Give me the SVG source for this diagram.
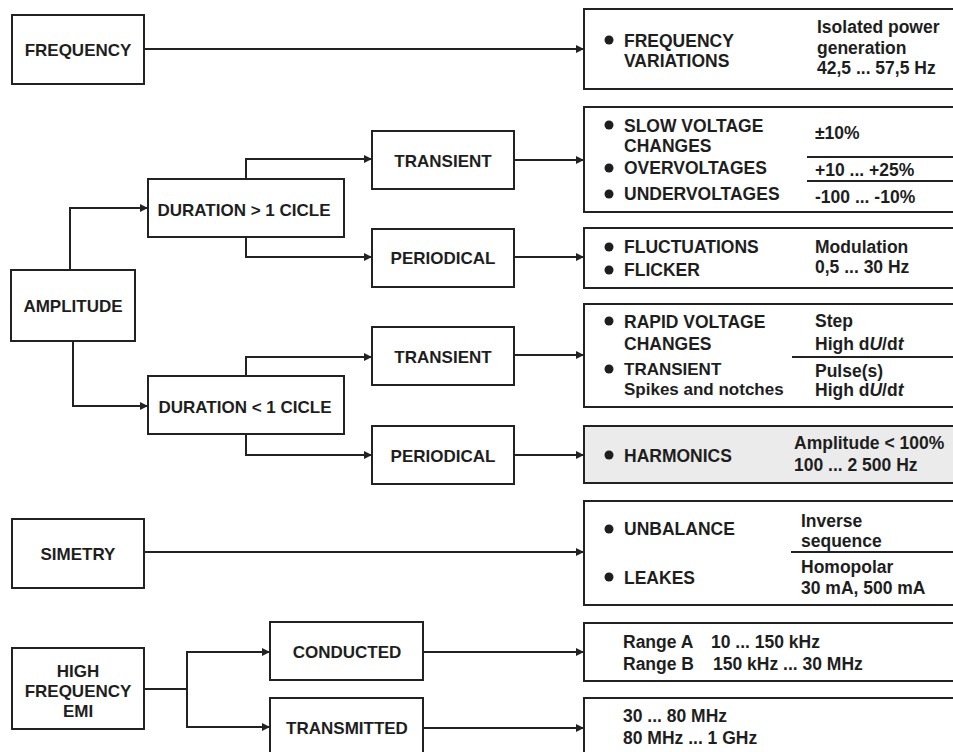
<svg xmlns="http://www.w3.org/2000/svg" width="953" height="752" viewBox="0 0 953 752">
<style>
.box{fill:#fff;stroke:#222;stroke-width:2}
.grey{fill:#ebebeb;stroke:#222;stroke-width:2}
.t{font-family:"Liberation Sans",Arial,sans-serif;font-weight:bold;font-size:17px;fill:#1e1e1e}
.r{font-family:"Liberation Sans",Arial,sans-serif;font-weight:bold;font-size:17.5px;fill:#1e1e1e}
.s{font-size:17px}
.c{text-anchor:middle}
.con{fill:none;stroke:#222;stroke-width:2}
.div{stroke:#222;stroke-width:2}
.b{fill:#1e1e1e}
</style>
<defs>
<marker id="ah" viewBox="0 0 10 10" refX="10" refY="5" markerWidth="10" markerHeight="8" markerUnits="userSpaceOnUse" orient="auto">
<path d="M0,0 L10,5 L0,10 z" fill="#222"/>
</marker>
</defs>
<rect width="953" height="752" fill="#fff"/>

<g id="connectors">
<path class="con" d="M144,49 H584" marker-end="url(#ah)"/>
<path class="con" d="M70,270 V208 H148" marker-end="url(#ah)"/>
<path class="con" d="M246,179 V159 H372" marker-end="url(#ah)"/>
<path class="con" d="M246,237 V257 H372" marker-end="url(#ah)"/>
<path class="con" d="M514,160 H584" marker-end="url(#ah)"/>
<path class="con" d="M514,257 H584" marker-end="url(#ah)"/>
<path class="con" d="M73,341 V406 H148" marker-end="url(#ah)"/>
<path class="con" d="M246,376 V357 H372" marker-end="url(#ah)"/>
<path class="con" d="M246,434 V455 H372" marker-end="url(#ah)"/>
<path class="con" d="M514,355 H584" marker-end="url(#ah)"/>
<path class="con" d="M514,455 H584" marker-end="url(#ah)"/>
<path class="con" d="M144,552 H584" marker-end="url(#ah)"/>
<path class="con" d="M144,689 H187"/>
<path class="con" d="M187,689 V652 H270" marker-end="url(#ah)"/>
<path class="con" d="M187,689 V727 H270" marker-end="url(#ah)"/>
<path class="con" d="M423,652 H584" marker-end="url(#ah)"/>
<path class="con" d="M423,728 H584" marker-end="url(#ah)"/>
</g>

<g id="frequency">
<rect class="box" x="12" y="15" width="132" height="69"/>
<text class="t c" x="78" y="56">FREQUENCY</text>
</g>

<g id="frequency-variations">
<rect class="box" x="584" y="9" width="372" height="80"/>
<circle class="b" cx="609" cy="40" r="4.5"/>
<text class="r" x="624" y="47">FREQUENCY</text>
<text class="r" x="624" y="67">VARIATIONS</text>
<text class="r" x="817" y="33">Isolated power</text>
<text class="r" x="817" y="54">generation</text>
<text class="r" x="817" y="74">42,5 ... 57,5 Hz</text>
</g>

<g id="amplitude">
<rect class="box" x="11" y="270" width="124" height="71"/>
<text class="t c" x="73" y="312">AMPLITUDE</text>
</g>

<g id="duration-gt">
<rect class="box" x="148" y="179" width="196" height="58"/>
<text class="t c" x="244" y="216">DURATION &gt; 1 CICLE</text>
</g>

<g id="duration-lt">
<rect class="box" x="148" y="376" width="196" height="58"/>
<text class="t c" x="245" y="413">DURATION &lt; 1 CICLE</text>
</g>

<g id="transient-1">
<rect class="box" x="372" y="131" width="142" height="58"/>
<text class="t c" x="443" y="167">TRANSIENT</text>
</g>

<g id="periodical-1">
<rect class="box" x="372" y="229" width="142" height="58"/>
<text class="t c" x="443" y="264">PERIODICAL</text>
</g>

<g id="transient-2">
<rect class="box" x="372" y="327" width="142" height="58"/>
<text class="t c" x="443" y="363">TRANSIENT</text>
</g>

<g id="periodical-2">
<rect class="box" x="372" y="426" width="142" height="58"/>
<text class="t c" x="443" y="462">PERIODICAL</text>
</g>

<g id="slow-voltage">
<rect class="box" x="584" y="107" width="372" height="105"/>
<circle class="b" cx="609" cy="125" r="4.5"/>
<text class="r" x="624" y="132">SLOW VOLTAGE</text>
<text class="r" x="624" y="152">CHANGES</text>
<circle class="b" cx="609" cy="168" r="4.5"/>
<text class="r" x="624" y="174">OVERVOLTAGES</text>
<circle class="b" cx="609" cy="194" r="4.5"/>
<text class="r" x="624" y="200">UNDERVOLTAGES</text>
<text class="r" x="815" y="139">±10%</text>
<line class="div" x1="807" y1="157" x2="953" y2="157"/>
<text class="r" x="815" y="176">+10 ... +25%</text>
<line class="div" x1="807" y1="181" x2="953" y2="181"/>
<text class="r" x="815" y="203">-100 ... -10%</text>
</g>

<g id="fluctuations">
<rect class="box" x="584" y="228" width="372" height="60"/>
<circle class="b" cx="609" cy="247" r="4.5"/>
<text class="r" x="624" y="253">FLUCTUATIONS</text>
<circle class="b" cx="609" cy="270" r="4.5"/>
<text class="r" x="624" y="276">FLICKER</text>
<text class="r" x="815" y="253">Modulation</text>
<text class="r" x="815" y="273">0,5 ... 30 Hz</text>
</g>

<g id="rapid-voltage">
<rect class="box" x="584" y="304" width="372" height="103"/>
<circle class="b" cx="609" cy="321" r="4.5"/>
<text class="r" x="624" y="328">RAPID VOLTAGE</text>
<text class="r" x="624" y="350">CHANGES</text>
<circle class="b" cx="609" cy="369" r="4.5"/>
<text class="r s" x="624" y="375">TRANSIENT</text>
<text class="r s" x="624" y="395">Spikes and notches</text>
<text class="r" x="815" y="327">Step</text>
<text class="r" x="815" y="350">High d<tspan font-style="italic">U</tspan>/d<tspan font-style="italic">t</tspan></text>
<line class="div" x1="792" y1="357" x2="953" y2="357"/>
<text class="r" x="815" y="377">Pulse(s)</text>
<text class="r" x="815" y="396">High d<tspan font-style="italic">U</tspan>/d<tspan font-style="italic">t</tspan></text>
</g>

<g id="harmonics">
<rect class="grey" x="584" y="426" width="372" height="57"/>
<circle class="b" cx="609" cy="455" r="4.5"/>
<text class="r" x="624" y="462">HARMONICS</text>
<text class="r" x="794" y="449">Amplitude &lt; 100%</text>
<text class="r" x="794" y="471">100 ... 2 500 Hz</text>
</g>

<g id="simetry">
<rect class="box" x="12" y="519" width="132" height="69"/>
<text class="t c" x="78" y="560">SIMETRY</text>
</g>

<g id="unbalance">
<rect class="box" x="584" y="501" width="372" height="104"/>
<circle class="b" cx="609" cy="529" r="4.5"/>
<text class="r" x="624" y="535">UNBALANCE</text>
<circle class="b" cx="609" cy="577" r="4.5"/>
<text class="r" x="624" y="584">LEAKES</text>
<text class="r" x="801" y="527">Inverse</text>
<text class="r" x="801" y="547">sequence</text>
<line class="div" x1="791" y1="552" x2="953" y2="552"/>
<text class="r" x="801" y="573">Homopolar</text>
<text class="r" x="801" y="594">30 mA, 500 mA</text>
</g>

<g id="high-frequency">
<rect class="box" x="12" y="648" width="132" height="81"/>
<text class="t c" x="78" y="677">HIGH</text>
<text class="t c" x="78" y="697">FREQUENCY</text>
<text class="t c" x="78" y="717">EMI</text>
</g>

<g id="conducted">
<rect class="box" x="270" y="622" width="153" height="58"/>
<text class="t c" x="347" y="658">CONDUCTED</text>
</g>

<g id="transmitted">
<rect class="box" x="270" y="698" width="153" height="60"/>
<text class="t c" x="347" y="734">TRANSMITTED</text>
</g>

<g id="conducted-ranges">
<rect class="box" x="584" y="623" width="372" height="58"/>
<text class="r" x="623" y="648">Range A</text>
<text class="r" x="711" y="648">10 ... 150 kHz</text>
<text class="r" x="623" y="670">Range B</text>
<text class="r" x="713" y="670">150 kHz ... 30 MHz</text>
</g>

<g id="transmitted-ranges">
<rect class="box" x="584" y="698" width="372" height="60"/>
<text class="r" x="623" y="722">30 ... 80 MHz</text>
<text class="r" x="623" y="744">80 MHz ... 1 GHz</text>
</g>
</svg>
